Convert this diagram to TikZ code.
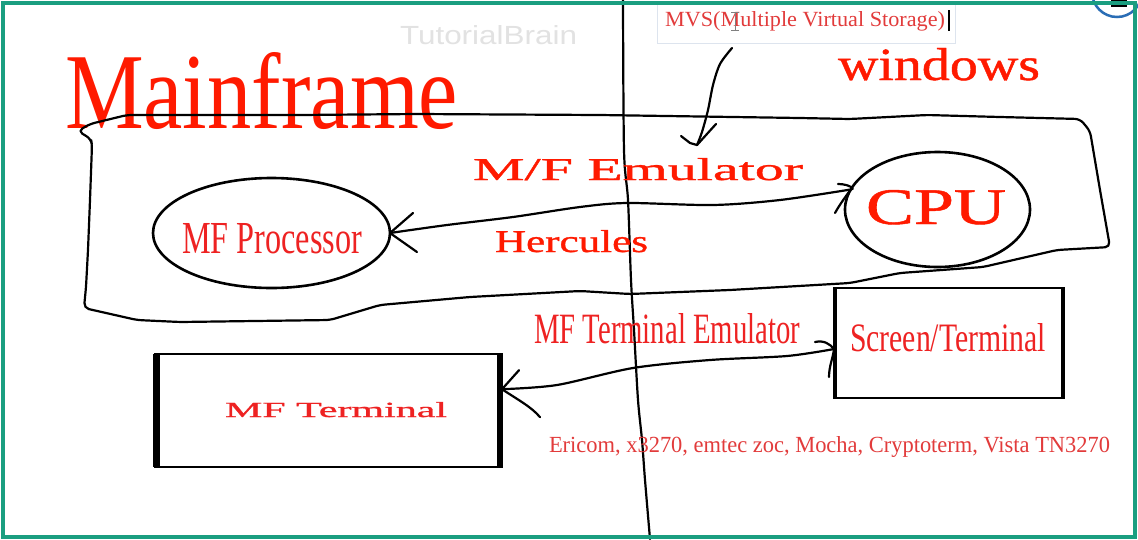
\documentclass[tikz,border=0pt]{standalone}
\usepackage{fontspec}
\setmainfont{Liberation Serif}
\newfontfamily\arialf{Liberation Sans}
\newfontfamily\semibf[FakeBold=0.9]{Liberation Serif}
\usetikzlibrary{shapes.geometric}
\definecolor{redA}{HTML}{FF1A00}
\definecolor{redB}{HTML}{EE2222}
\definecolor{redC}{HTML}{E23B3B}
\definecolor{framegreen}{HTML}{1A9E80}
\definecolor{wmgray}{HTML}{E2E2E2}
\definecolor{cblue}{HTML}{2A6DB5}
\definecolor{mvsborder}{HTML}{DDE4EE}
\newcommand\fitt[3]{\resizebox{#1pt}{#2pt}{#3}}
\begin{document}
\begin{tikzpicture}[x=1pt,y=-1pt,
  hand/.style={line width=2.2pt, black, line cap=round, line join=round},
  lbl/.style={inner sep=0pt, outer sep=0pt, anchor=base west},
  boxshape/.style={draw=black, line width=2pt, inner sep=0pt, outer sep=0pt, rectangle},
  ovalshape/.style={draw=black, line width=2.6pt, inner sep=0pt, outer sep=0pt, ellipse}]
\useasboundingbox (0,0) rectangle (1138,539);
\fill[white] (0,0) rectangle (1138,539);
\begin{scope}
\clip (0,0) rectangle (1138,539);

% watermark
\node[lbl, text=wmgray] (tb) at (400,44) {\fitt{177}{19}{\arialf TutorialBrain}};

% MVS box and text
\node[draw=mvsborder, line width=0.8pt, fill=white, minimum width=298pt, minimum height=40pt, inner sep=0pt] (mvsbox) at (806,23) {};
\node[lbl, text=redC] (mvs) at (665,26) {\fitt{280}{15}{MVS(Multiple Virtual Storage)}};
\draw[gray, line width=1pt] (731,12) -- (739,12) (735,12) -- (735,30) (731,30) -- (739,30);
\draw[black, line width=1.5pt] (949,10) -- (949,31);

% titles
\node[lbl, text=redA] (mainframe) at (65,128) {\fitt{393}{76}{Mainframe}};
\node[lbl, text=redA] (windows) at (838,80) {\fitt{202}{32}{\semibf windows}};

% vertical divider
\draw[hand] plot[smooth] coordinates {(623,0) (624,150) (628,200) (631,280) (634,330) (638,400) (642,440) (645,480) (650,539)};

% emulator boundary
\draw[hand, rounded corners=5pt] (127,115) -- (300,115) -- (417,114) -- (600,115) -- (800,118) -- (850,119)
 -- (927,115) -- (1000,117) -- (1080,119) -- (1090,131) -- (1100,190) -- (1110,247) -- (1057,250)
 -- (983,267) -- (900,273) -- (850,283) -- (730,290) -- (630,294) -- (580,291) -- (470,297)
 -- (380,305) -- (330,320) -- (180,322) -- (137,320) -- (84,308) -- (86,287) -- (88,250)
 -- (90,200) -- (92,145) -- (91,139) -- (78,131) -- (90,124) -- cycle;

% MVS pointer stroke
\coordinate (mvsfrom) at (732,48);
\coordinate (mvsto) at (697,145);
\draw[hand] plot[smooth] coordinates {(mvsfrom) (720,64) (713,85) (708,110) (702,132) (mvsto)};
\draw[hand] (681,136) -- (690,143) -- (mvsto) -- (716,124);

% processor and cpu
\node[ovalshape, minimum width=237pt, minimum height=110pt] (mfp) at (271.5,233) {};
\node[lbl, text=redB] (mfptext) at (182,253) {\fitt{180}{30}{MF Processor}};
\node[ovalshape, minimum width=185pt, minimum height=115pt] (cpu) at (937.5,209.5) {};
\node[lbl, text=redA] (cputext) at (866,224) {\fitt{140}{34}{\semibf CPU}};

\node[lbl, text=redA] (mfe) at (473,180) {\fitt{330}{22}{\semibf M/F Emulator}};
\node[lbl, text=redA] (herc) at (495,252) {\fitt{153}{22}{\semibf Hercules}};

% connector processor <-> cpu
\draw[hand] plot[smooth] coordinates {(mfp.east) (447,225) (513,217) (580,207) (627,203) (713,205) (780,200) (cpu.167)};
\draw[hand] (mfp.east) -- ++(23,-20);
\draw[hand] (mfp.east) -- ++(27,19);
\draw[hand] (838,184) .. controls (850,184) and (856,190) .. (cpu.167) .. controls (846,196) and (840,204) .. (835,213);

% terminals
\node[boxshape, minimum width=347pt, minimum height=113pt] (mft) at (328.5,410.5) {};
\draw[line width=7pt] ([xshift=1.5pt]mft.north west) -- ([xshift=1.5pt]mft.south west);
\draw[line width=6pt] ([xshift=-2pt]mft.north east) -- ([xshift=-2pt]mft.south east);
\node[lbl, text=redB] (mfttext) at (225,417) {\fitt{222}{15}{\semibf MF Terminal}};

\node[boxshape, minimum width=230pt, minimum height=110pt] (scr) at (949,343) {};
\draw[line width=4pt] ([xshift=1pt]scr.north west) -- ([xshift=1pt]scr.south west);
\draw[line width=4pt] ([xshift=-1pt]scr.north east) -- ([xshift=-1pt]scr.south east);
\node[lbl, text=redB] (scrtext) at (850,351) {\fitt{196}{28}{Screen/Terminal}};

\node[lbl, text=redB] (mfte) at (534,343) {\fitt{266}{30}{MF Terminal Emulator}};
\node[lbl, text=redC] (ericom) at (549,452) {\fitt{561}{16}{Ericom, x3270, emtec zoc, Mocha, Cryptoterm, Vista TN3270}};

% connector terminal <-> screen
\draw[hand] plot[smooth] coordinates {(mft.7.7) (557,385) (633,368) (710,360) (787,356) (scr.183.5)};
\draw[hand] (mft.7.7) -- ++(17,-19);
\draw[hand] (mft.7.7) .. controls ++(15,10) and ++(-8,-10) .. ++(38,28);
\draw[hand] (815,342) .. controls (824,340) and (830,344) .. (scr.183.5) .. controls (833,358) and (829,366) .. (829,377);

% corner widget
\draw[cblue, line width=2.5pt] (1117,-8) circle (25);
\fill[black] (1111,0) rectangle (1127,3);
\fill[black] (1111,5) rectangle (1127,7);
\end{scope}

% frame
\draw[framegreen, line width=4pt] (3,3) rectangle (1135,537);
\end{tikzpicture}
\end{document}
